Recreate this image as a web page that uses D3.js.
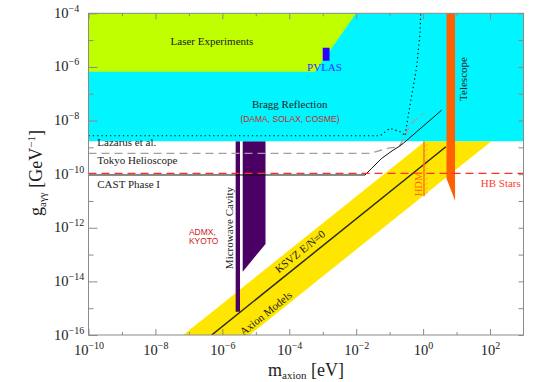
<!DOCTYPE html>
<html>
<head>
<meta charset="utf-8">
<script src="https://cdn.jsdelivr.net/npm/d3@7"></script>
<style>
  body { margin: 0; background: #fff; }
  svg { display: block; }
</style>
</head>
<body>
<div id="chart"></div>
<script>
// ------------------------------------------------------------
// Data (mass in eV, coupling in GeV^-1)
// ------------------------------------------------------------
const massDomain = [1e-10, 1e3];
const couplingDomain = [1e-16, 1e-4];
const massMajor = [1e-10, 1e-8, 1e-6, 1e-4, 1e-2, 1e0, 1e2];
const massMinor = [1e-9, 1e-7, 1e-5, 1e-3, 1e-1, 1e1];
const couplingMajor = [1e-16, 1e-14, 1e-12, 1e-10, 1e-8, 1e-6, 1e-4];
const couplingMinor = [1e-15, 1e-13, 1e-11, 1e-9, 1e-7, 1e-5];

const braggRegion = [[1e-10, 1.7e-9], [1e3, 1.7e-9], [1e3, 1e-4], [1e-10, 1e-4]];
const laserRegion = [[1e-10, 6.6e-7], [5.9e-4, 6.6e-7], [1e-2, 1e-4], [1e-10, 1e-4]];
const pvlasBox = [[1e-3, 1.7e-6], [1.6e-3, 1.7e-6], [1.6e-3, 5.2e-6], [1e-3, 5.2e-6]];
const axionBand = [[6.8e-8, 1e-16], [1.15, 1.7e-9], [110, 1.7e-9], [6.5e-6, 1e-16]];
const cavityThin = [[2.5e-6, 1.7e-9], [3.37e-6, 1.7e-9], [3.37e-6, 7.4e-16], [2.5e-6, 7.4e-16]];
const cavityWide = [[4.06e-6, 1.7e-9], [1.95e-5, 1.7e-9], [1.95e-5, 2.5e-13], [4.06e-6, 2.3e-14]];
const telescopeRegion = [[5.0, 1e-4], [9.0, 1e-4], [9.0, 1.02e-11], [5.0, 6.9e-11]];

const lazarusLine = [
  [1e-10, 2.71e-9], [5.15e-2, 2.71e-9], [0.1026, 5.13e-9], [0.1445, 4.42e-9],
  [0.229, 3.63e-9], [0.288, 2.64e-9], [0.361, 1.6e-8], [0.406, 3.8e-8],
  [0.509, 1.82e-7], [0.644, 1.02e-6], [0.807, 1.8e-5], [0.847, 1e-4]
];
const tokyoLine = [
  [1e-10, 5.97e-10], [2.59e-2, 5.97e-10], [5.79e-2, 7.94e-10], [9.12e-2, 9.33e-10],
  [0.1945, 1.05e-9], [0.288, 2.64e-9], [0.406, 6.79e-9], [0.573, 1.05e-8], [1.03, 1.86e-8]
];
const castLine = [
  [1e-10, 9.3e-11], [1.84e-2, 9.3e-11], [2.91e-2, 1.66e-10], [5.79e-2, 3.89e-10],
  [0.1285, 7.94e-10], [0.178, 1.02e-9], [0.256, 1.41e-9], [3.6, 2.45e-8]
];
const hbStarsLine = [[1e-10, 1.07e-10], [1e3, 1.07e-10]];
const ksvzLine = [[4.8e-7, 1e-16], [4.8, 1.05e-9]];
const hdmLine = [[1.06, 1.7e-9], [1.06, 1.5e-11]];

// labels: text, mass, coupling, anchor, rotation, style
const labels = [
  { text: "Laser Experiments", m: 4.9e-7, g: 6.56e-6, anchor: "middle", rot: 0, color: "#222", size: 11 },
  { text: "Bragg Reflection", m: 1.03e-4, g: 3.05e-8, anchor: "middle", rot: 0, color: "#222", size: 11 },
  { text: "(DAMA, SOLAX, COSME)", m: 1.05e-4, g: 8.8e-9, anchor: "middle", rot: 0, color: "#c62828", size: 8.5, sans: true },
  { text: "PVLAS", m: 1.13e-3, g: 7.03e-7, anchor: "middle", rot: 0, color: "#3030ff", size: 11 },
  { text: "Lazarus et al.", m: 1.83e-10, g: 1.12e-9, anchor: "start", rot: 0, color: "#222", size: 11 },
  { text: "Tokyo Helioscope", m: 1.83e-10, g: 2.38e-10, anchor: "start", rot: 0, color: "#222", size: 11 },
  { text: "CAST Phase I", m: 1.83e-10, g: 3.03e-11, anchor: "start", rot: 0, color: "#222", size: 11 },
  { text: "ADMX,", m: 1e-7, g: 5.35e-13, anchor: "start", rot: 0, color: "#d01818", size: 8.5, sans: true },
  { text: "KYOTO", m: 1e-7, g: 2.45e-13, anchor: "start", rot: 0, color: "#d01818", size: 8.5, sans: true },
  { text: "Microwave Cavity", m: 2.08e-6, g: 9.75e-13, anchor: "middle", rot: -90, color: "#222", size: 11 },
  { text: "Telescope", m: 20.5, g: 3.54e-7, anchor: "middle", rot: -90, color: "#222", size: 11 },
  { text: "HDM", m: 0.895, g: 4.28e-11, anchor: "middle", rot: -90, color: "#ff6a00", size: 10.5 },
  { text: "HB Stars", m: 52.7, g: 3.44e-11, anchor: "start", rot: 0, color: "#ff3a30", size: 11 },
  { text: "KSVZ E/N=0", m: 2.09e-4, g: 1.31e-13, anchor: "middle", rot: -38.7, color: "#222", size: 11, dy: "0.35em" },
  { text: "Axion Models", m: 1.99e-5, g: 6.56e-16, anchor: "middle", rot: -38.7, color: "#222", size: 11, dy: "0.35em" }
];

// ------------------------------------------------------------
// Setup
// ------------------------------------------------------------
const W = 544, H = 382;
const SERIF = "'Liberation Serif', 'DejaVu Serif', serif";
const SANS = "'Liberation Sans', Arial, sans-serif";
const AXIS_COLOR = "#8a8a8a";

const svg = d3.select("#chart").append("svg")
  .attr("width", W)
  .attr("height", H);

const x = d3.scaleLog().domain(massDomain).range([88.5, 523.5]);
const y = d3.scaleLog().domain(couplingDomain).range([335, 13.3]);

const line = d3.line().x(d => x(d[0])).y(d => y(d[1]));
const poly = pts => line(pts) + "Z";

svg.append("defs").append("clipPath").attr("id", "plot-clip")
  .append("rect")
  .attr("x", x.range()[0]).attr("y", y.range()[1])
  .attr("width", x.range()[1] - x.range()[0])
  .attr("height", y.range()[0] - y.range()[1]);

const plot = svg.append("g").attr("clip-path", "url(#plot-clip)");

// --- filled regions ---
plot.append("path").attr("d", poly(axionBand)).attr("fill", "#ffe600");
plot.append("path").attr("d", poly(cavityThin)).attr("fill", "#4b0064");
plot.append("path").attr("d", poly(cavityWide)).attr("fill", "#4b0064");
plot.append("path").attr("d", poly(braggRegion)).attr("fill", "#00f5ff");
plot.append("path").attr("d", poly(laserRegion)).attr("fill", "#bfff00");
plot.append("path").attr("d", poly(pvlasBox)).attr("fill", "#2a00ff");

// --- lines ---
plot.append("path").attr("d", line(ksvzLine))
  .attr("fill", "none").attr("stroke", "#2b2b1a").attr("stroke-width", 1.5);

plot.append("path").attr("d", line(tokyoLine))
  .attr("fill", "none").attr("stroke", "#a0a0a0").attr("stroke-width", 1.4)
  .attr("stroke-dasharray", "8,5");

plot.append("path").attr("d", line(lazarusLine))
  .attr("fill", "none").attr("stroke", "#111").attr("stroke-width", 1.2)
  .attr("stroke-dasharray", "1.3,3");

plot.append("path").attr("d", line(castLine))
  .attr("fill", "none").attr("stroke", "#111").attr("stroke-width", 1);

// --- HDM hatched limit ---
const hdmX = x(hdmLine[0][0]);
const hdmTop = y(hdmLine[0][1]), hdmBottom = y(hdmLine[1][1]);
plot.append("g").selectAll("line")
  .data(d3.range(hdmTop + 3, hdmBottom, 4.8))
  .join("line")
  .attr("x1", hdmX).attr("y1", d => d + 3)
  .attr("x2", hdmX + 4).attr("y2", d => d)
  .attr("stroke", "#ff9a40").attr("stroke-width", 0.8);
plot.append("path").attr("d", line(hdmLine))
  .attr("fill", "none").attr("stroke", "#ff7a10").attr("stroke-width", 1.5);

// --- telescope ---
plot.append("path").attr("d", poly(telescopeRegion)).attr("fill", "#ff6000");

// --- HB stars ---
plot.append("path").attr("d", line(hbStarsLine))
  .attr("fill", "none").attr("stroke", "#ff2e28").attr("stroke-width", 1.3)
  .attr("stroke-dasharray", "8,5");

// --- labels ---
plot.append("g").selectAll("text")
  .data(labels)
  .join("text")
  .attr("transform", d => `translate(${x(d.m)},${y(d.g)}) rotate(${d.rot})`)
  .attr("text-anchor", d => d.anchor)
  .attr("dy", d => d.dy || null)
  .attr("font-family", d => d.sans ? SANS : SERIF)
  .attr("font-size", d => d.size)
  .attr("fill", d => d.color)
  .text(d => d.text);

// ------------------------------------------------------------
// Axes
// ------------------------------------------------------------
const expText = v => {
  const e = Math.round(Math.log10(v));
  return e < 0 ? "\u2212" + Math.abs(e) : String(e);
};

function addAxis(axisFn, values, size, transform) {
  const g = svg.append("g")
    .attr("transform", transform)
    .attr("color", AXIS_COLOR)
    .call(axisFn.tickValues(values).tickSize(-size).tickFormat(""));
  g.select(".domain").remove();
  g.selectAll(".tick text").remove();
  return g;
}

const xb = addAxis(d3.axisBottom(x), massMajor, 6, `translate(0,${y.range()[0]})`);
addAxis(d3.axisBottom(x), massMinor, 3, `translate(0,${y.range()[0]})`);
addAxis(d3.axisTop(x), massMajor, 6, `translate(0,${y.range()[1]})`);
addAxis(d3.axisTop(x), massMinor, 3, `translate(0,${y.range()[1]})`);
const yl = addAxis(d3.axisLeft(y), couplingMajor, 9, `translate(${x.range()[0]},0)`);
addAxis(d3.axisLeft(y), couplingMinor, 5, `translate(${x.range()[0]},0)`);
addAxis(d3.axisRight(y), couplingMajor, 5, `translate(${x.range()[1]},0)`);
addAxis(d3.axisRight(y), couplingMinor, 5, `translate(${x.range()[1]},0)`);

// frame
svg.append("rect")
  .attr("x", x.range()[0]).attr("y", y.range()[1])
  .attr("width", x.range()[1] - x.range()[0])
  .attr("height", y.range()[0] - y.range()[1])
  .attr("fill", "none").attr("stroke", AXIS_COLOR).attr("stroke-width", 1);

// tick labels
xb.selectAll(".tick").each(function (d) {
  const t = d3.select(this).append("text")
    .attr("y", 20)
    .attr("text-anchor", "middle")
    .attr("font-family", SERIF)
    .attr("font-size", 14.5)
    .attr("fill", "#222");
  t.append("tspan").text("10");
  t.append("tspan").attr("dy", -6).attr("font-size", 10).text(expText(d));
});

yl.selectAll(".tick").each(function (d) {
  const t = d3.select(this).append("text")
    .attr("x", 54 - x.range()[0])
    .attr("y", 4)
    .attr("text-anchor", "start")
    .attr("font-family", SERIF)
    .attr("font-size", 14.5)
    .attr("fill", "#222");
  t.append("tspan").text("10");
  t.append("tspan").attr("dy", -6).attr("font-size", 10).text(expText(d));
});

// axis titles
const xTitle = svg.append("text")
  .attr("x", 268).attr("y", 376)
  .attr("font-family", SERIF).attr("font-size", 18).attr("fill", "#222");
xTitle.append("tspan").text("m");
xTitle.append("tspan").attr("dy", 3).attr("font-size", 11).text("axion");
xTitle.append("tspan").attr("dy", -3).text(" [eV]");

const yTitle = svg.append("text")
  .attr("transform", "translate(42,173) rotate(-90)")
  .attr("text-anchor", "middle")
  .attr("font-family", SERIF).attr("font-size", 18).attr("fill", "#222");
yTitle.append("tspan").text("g");
yTitle.append("tspan").attr("dy", 4).attr("font-size", 11).text("a\u03b3\u03b3");
yTitle.append("tspan").attr("dy", -4).text(" [GeV");
yTitle.append("tspan").attr("dy", -7).attr("font-size", 11).text("\u22121");
yTitle.append("tspan").attr("dy", 7).text("]");
</script>
</body>
</html>
